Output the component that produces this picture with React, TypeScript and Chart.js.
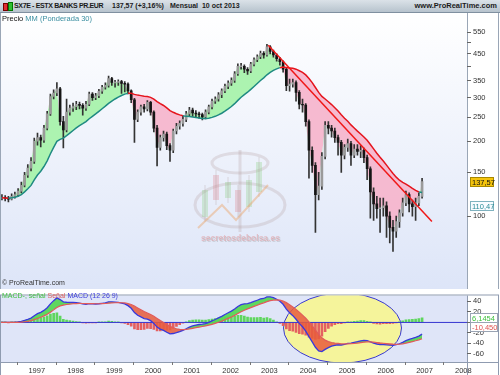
import React, { useEffect, useRef } from 'react';
import { Chart, registerables } from 'chart.js';

Chart.register(...registerables);
Chart.defaults.font.family = '"Liberation Sans", Arial, sans-serif';

// Monthly candles (first month of series at FIRST_MONTH, fractional year)
const FIRST_MONTH = 1996.02;
const CLOSE = [
  118, 119, 118, 117, 120, 122, 126, 133, 146, 156, 166, 200,
  207, 202, 226, 258, 303, 313, 325, 240, 222, 262, 272, 276,
  282, 279, 272, 282, 310, 300, 305, 318, 330, 336, 358, 345,
  345, 348, 342, 340, 319, 294, 245, 262, 275, 270, 287, 262,
  226, 189, 207, 214, 192, 184, 220, 230, 236, 245, 258, 267,
  260, 258, 256, 251, 262, 275, 290, 296, 308, 319, 333, 343,
  352, 374, 401, 401, 390, 384, 409, 426, 438, 452, 445, 480,
  460, 445, 430, 418, 390, 335, 340, 345, 315, 282, 280, 240,
  184, 160, 122, 132, 174, 232, 226, 220, 207, 198, 176, 189,
  196, 176, 186, 182, 184, 172, 155, 125, 112, 107, 108, 110,
  100, 90, 87, 95, 103, 113, 122, 112, 109, 113, 120, 137.57,
];
const OPEN = [
  117, 118, 119, 118, 117, 120, 122, 126, 133, 146, 156, 166,
  200, 207, 202, 226, 258, 303, 313, 325, 240, 222, 262, 272,
  276, 282, 279, 272, 282, 310, 300, 305, 318, 330, 336, 358,
  345, 345, 348, 342, 340, 319, 294, 245, 262, 275, 270, 287,
  262, 226, 189, 207, 214, 192, 184, 220, 230, 236, 245, 258,
  267, 260, 258, 256, 251, 262, 275, 290, 296, 308, 319, 333,
  343, 352, 374, 401, 401, 390, 384, 409, 426, 438, 452, 445,
  480, 460, 445, 430, 418, 390, 335, 340, 345, 315, 282, 280,
  240, 184, 160, 122, 132, 174, 232, 226, 220, 207, 198, 176,
  189, 196, 176, 186, 182, 184, 172, 155, 125, 112, 107, 108,
  110, 100, 90, 87, 95, 103, 113, 122, 112, 109, 113, 120,
];
const HIGH = [
  121, 122, 121, 120, 123, 125, 129, 137, 150, 161, 172, 206,
  216, 212, 232, 264, 310, 322, 345, 330, 252, 296, 280, 285,
  290, 288, 284, 290, 316, 314, 312, 324, 336, 344, 366, 362,
  352, 354, 352, 348, 344, 322, 298, 268, 280, 282, 292, 290,
  265, 232, 212, 220, 218, 196, 224, 236, 242, 252, 264, 274,
  272, 266, 262, 260, 268, 280, 296, 302, 314, 325, 340, 350,
  360, 382, 410, 412, 406, 396, 416, 434, 446, 462, 460, 492,
  486, 466, 450, 436, 422, 396, 356, 356, 350, 320, 296, 284,
  244, 190, 164, 150, 180, 240, 240, 232, 226, 212, 202, 194,
  204, 200, 194, 194, 192, 188, 176, 158, 130, 120, 118, 118,
  114, 104, 96, 100, 106, 118, 126, 124, 116, 118, 124, 142,
];
const LOW = [
  115, 116, 115, 114, 116, 118, 120, 124, 131, 143, 152, 163,
  193, 190, 198, 222, 254, 296, 305, 232, 188, 218, 255, 264,
  268, 270, 255, 266, 278, 292, 294, 300, 312, 324, 330, 336,
  330, 336, 312, 316, 310, 286, 198, 240, 255, 262, 265, 255,
  218, 159, 184, 200, 185, 166, 180, 214, 224, 230, 240, 252,
  252, 250, 248, 244, 246, 258, 270, 284, 290, 300, 314, 326,
  336, 345, 368, 390, 378, 372, 378, 402, 418, 430, 432, 440,
  450, 436, 420, 405, 380, 320, 318, 330, 290, 270, 262, 230,
  142, 150, 86, 116, 128, 170, 214, 208, 198, 176, 150, 170,
  182, 160, 172, 176, 172, 164, 140, 98, 96, 98, 86, 100,
  82, 78, 72, 82, 90, 100, 110, 104, 100, 96, 110, 118,
];

const TREND = [
  { x: 2002.97, y: 487 },
  { x: 2007.19, y: 95 },
];

const YEAR_TICKS = [1997, 1998, 1999, 2000, 2001, 2002, 2003, 2004, 2005, 2006, 2007, 2008];
const PRICE_TICKS = [100, 150, 200, 250, 300, 350, 400, 450, 500, 550];
const PRICE_UNLABELLED = [400, 500];
const MACD_TICKS = [-60, -40, -20, 0, 20, 40];

const LAST_PRICE = 137.57;
const LAST_PRICE_LABEL = '137,57';
const MA_LAST = 110.47;
const MA_LABEL = '110,47';
const HIST_LAST = 6.1454;
const HIST_LABEL = '6,1454';
const MACD_LAST = -10.45;
const MACD_LABEL = '-10,450';

const MA_PERIOD = 30;
const MACD_FAST = 12;
const MACD_SLOW = 26;
const MACD_SIGNAL = 9;

const X_MIN = 1996.079;
const X_MAX = 2008.095;
const PRICE_MIN = 54;
const PRICE_MAX = 618.7;
const MACD_MIN = -75.4;
const MACD_MAX = 51.3;

function wma(arr: number[], n: number) {
  return arr.map((_, i) => {
    let s = 0, w = 0;
    for (let k = 0; k < n && i - k >= 0; k++) {
      const wt = n - k;
      s += arr[i - k] * wt;
      w += wt;
    }
    return s / w;
  });
}
function ema(arr: number[], n: number) {
  const a = 2 / (n + 1);
  const out: number[] = [];
  arr.forEach((v, i) => out.push(i === 0 ? v : a * v + (1 - a) * out[i - 1]));
  return out;
}

function valueBox(ctx: CanvasRenderingContext2D, x: number, yc: number, w: number, h: number, fill: string, stroke: string, color: string, text: string) {
  ctx.save();
  ctx.fillStyle = fill;
  ctx.strokeStyle = stroke;
  ctx.lineWidth = 1;
  const y = Math.round(yc - h / 2) + 0.5;
  ctx.fillRect(x + 0.5, y, w, h);
  ctx.strokeRect(x + 0.5, y, w, h);
  ctx.fillStyle = color;
  ctx.font = '7.5px "Liberation Sans", Arial, sans-serif';
  ctx.textBaseline = 'middle';
  ctx.fillText(text, x + 2, y + h / 2 + 0.5);
  ctx.restore();
}

export default function App() {
  const mainRef = useRef<HTMLCanvasElement>(null);
  const macdRef = useRef<HTMLCanvasElement>(null);

  useEffect(() => {
    document.body.style.margin = '0';
    const xs = CLOSE.map((_, i) => FIRST_MONTH + i / 12);
    const ma = wma(CLOSE, MA_PERIOD);
    const closePts = CLOSE.map((c, i) => ({ x: xs[i], y: c }));
    const maPts = ma.map((m, i) => ({ x: xs[i], y: m }));
    const wickPts = CLOSE.map((_, i) => ({ x: xs[i], y: [LOW[i], HIGH[i]] }));
    const bodyPts = CLOSE.map((c, i) => {
      const o = OPEN[i];
      return { x: xs[i], y: o === c ? [c * 0.996, c * 1.004] : [o, c] };
    });
    const bodyColors = CLOSE.map((c, i) => (c >= OPEN[i] ? '#9a9a9a' : '#151515'));

    const emaF = ema(CLOSE, MACD_FAST);
    const emaS = ema(CLOSE, MACD_SLOW);
    const macd = emaF.map((v, i) => v - emaS[i]);
    const signal = ema(macd, MACD_SIGNAL);
    const hist = macd.map((v, i) => v - signal[i]);

    const mainDecor = {
      id: 'mainDecor',
      beforeDraw(chart: any) {
        const { ctx, chartArea: a, width, height } = chart;
        ctx.save();
        const g = ctx.createLinearGradient(0, 0, 0, height);
        g.addColorStop(0, '#ffffff');
        g.addColorStop(1, '#dde5f8');
        ctx.fillStyle = g;
        ctx.fillRect(a.left, 0, a.right - a.left, height);
        ctx.fillStyle = '#ffffff';
        ctx.fillRect(a.right, 0, width - a.right, height);
        ctx.fillRect(0, 0, a.left, height);
        ctx.strokeStyle = '#9aa6b6';
        ctx.lineWidth = 1;
        ctx.beginPath();
        ctx.moveTo(0.5, 0); ctx.lineTo(0.5, height);
        ctx.moveTo(a.right + 0.5, 0); ctx.lineTo(a.right + 0.5, height);
        ctx.moveTo(width - 1.5, 0); ctx.lineTo(width - 1.5, height);
        ctx.stroke();
        ctx.restore();
      },
      beforeDatasetsDraw(chart: any) {
        const { ctx } = chart;
        const oy = 13;
        ctx.save();
        ctx.strokeStyle = 'rgba(175,150,150,0.25)';
        ctx.lineWidth = 3;
        ctx.beginPath();
        ctx.ellipse(240, 163 - oy, 28, 10, 0, 0, Math.PI * 2);
        ctx.stroke();
        ctx.beginPath();
        ctx.ellipse(240, 205 - oy, 45, 22, 0, 0, Math.PI * 2);
        ctx.stroke();
        ctx.beginPath();
        ctx.moveTo(240, 150 - oy); ctx.lineTo(240, 232 - oy);
        ctx.stroke();
        const cds = [
          [205, 190, 217, 'g'], [216, 175, 200, 'r'], [228, 182, 198, 'g'],
          [238, 190, 212, 'r'], [249, 180, 207, 'g'], [259, 162, 192, 'g'],
        ];
        cds.forEach(([x, t, b, c]: any) => {
          ctx.fillStyle = c === 'g' ? 'rgba(130,205,120,0.28)' : 'rgba(220,120,130,0.28)';
          ctx.fillRect(x - 3, t - oy, 6, b - t);
          ctx.strokeStyle = 'rgba(170,150,150,0.3)';
          ctx.lineWidth = 1;
          ctx.beginPath(); ctx.moveTo(x, t - 5 - oy); ctx.lineTo(x, b + 5 - oy); ctx.stroke();
        });
        ctx.strokeStyle = 'rgba(235,165,105,0.45)';
        ctx.lineWidth = 2;
        ctx.beginPath();
        ctx.moveTo(198, 228 - oy); ctx.lineTo(222, 205 - oy); ctx.lineTo(236, 220 - oy); ctx.lineTo(268, 185 - oy);
        ctx.stroke();
        ctx.font = 'bold 8.5px "Liberation Sans", Arial, sans-serif';
        ctx.fillStyle = 'rgba(140,140,140,0.3)';
        ctx.fillText('secretosdebolsa.es', 202, 242 - oy);
        ctx.fillStyle = 'rgba(225,160,165,0.6)';
        ctx.fillText('secretosdebolsa.es', 201, 241 - oy);
        ctx.restore();
      },
      afterDraw(chart: any) {
        const { ctx } = chart;
        const y = chart.scales.y;
        valueBox(ctx, 470, y.getPixelForValue(LAST_PRICE), 23, 9, '#f5c40c', '#a88800', '#111', LAST_PRICE_LABEL);
        valueBox(ctx, 470, y.getPixelForValue(MA_LAST), 23, 9, '#f8fbff', '#7fb2bf', '#2a8c98', MA_LABEL);
      },
    };

    const main = new Chart(mainRef.current as HTMLCanvasElement, {
      type: 'bar',
      data: {
        datasets: [
          { type: 'line', label: 'close', data: closePts, borderColor: 'rgba(0,0,0,0)', borderWidth: 1, pointRadius: 0, order: 10 } as any,
          {
            type: 'line', label: 'maFill', data: maPts, borderColor: 'rgba(0,0,0,0)', borderWidth: 1, pointRadius: 0, order: 9,
            fill: { target: 0, above: 'rgba(245,182,206,0.95)', below: 'rgba(168,242,172,0.95)' },
          } as any,
          { type: 'bar', label: 'wick', data: wickPts, backgroundColor: '#333', barThickness: 1, grouped: false, order: 5 } as any,
          { type: 'bar', label: 'body', data: bodyPts, backgroundColor: bodyColors, barThickness: 2, grouped: false, order: 4 } as any,
          {
            type: 'line', label: 'ma', data: maPts, borderWidth: 1.5, pointRadius: 0, order: 2,
            borderColor: '#1f8a82',
            segment: { borderColor: (c: any) => (CLOSE[c.p1DataIndex] < ma[c.p1DataIndex] ? '#e5141c' : '#1f8a82') },
          } as any,
          { type: 'line', label: 'trend', data: TREND, borderColor: '#f01818', borderWidth: 1.5, pointRadius: 0, order: 1 } as any,
        ],
      },
      options: {
        responsive: false,
        animation: false,
        devicePixelRatio: 1,
        layout: { padding: { left: 1, right: 2, top: 0, bottom: 0 } },
        plugins: { legend: { display: false }, tooltip: { enabled: false } },
        scales: {
          x: { type: 'linear', display: false, min: X_MIN, max: X_MAX, offset: false },
          y: {
            type: 'logarithmic', position: 'right', min: PRICE_MIN, max: PRICE_MAX,
            afterFit: (s: any) => { s.width = 31; },
            afterBuildTicks: (s: any) => { s.ticks = PRICE_TICKS.map((v) => ({ value: v })); },
            ticks: {
              font: { size: 7.5 }, color: '#333', padding: 2,
              callback: (v: any) => (PRICE_UNLABELLED.includes(Number(v)) ? '' : String(v)),
            },
            grid: { drawOnChartArea: false, drawTicks: true, tickLength: 4, color: '#666' },
            border: { display: false },
          },
        },
      } as any,
      plugins: [mainDecor],
    });

    const macdDecor = {
      id: 'macdDecor',
      beforeDraw(chart: any) {
        const { ctx, chartArea: a, width, height } = chart;
        ctx.save();
        ctx.fillStyle = '#ffffff';
        ctx.fillRect(0, 0, width, height);
        ctx.fillStyle = '#dfe5f8';
        ctx.fillRect(a.left, a.top, a.right - a.left, a.bottom - a.top);
        ctx.strokeStyle = '#8f9bb0';
        ctx.lineWidth = 1;
        ctx.strokeRect(0.5, a.top - 0.5, width - 2, a.bottom - a.top + 1);
        ctx.beginPath();
        ctx.moveTo(a.right + 0.5, a.top); ctx.lineTo(a.right + 0.5, height);
        ctx.moveTo(0.5, a.bottom); ctx.lineTo(0.5, height);
        ctx.moveTo(width - 1.5, a.bottom); ctx.lineTo(width - 1.5, height);
        ctx.stroke();
        ctx.restore();
      },
      beforeDatasetsDraw(chart: any) {
        const { ctx, chartArea: a } = chart;
        const oy = 289;
        ctx.save();
        ctx.beginPath();
        ctx.rect(a.left, a.top, a.right - a.left, a.bottom - a.top);
        ctx.clip();
        ctx.beginPath();
        ctx.ellipse(342.5, 328 - oy, 59, 35, 0, 0, Math.PI * 2);
        ctx.fillStyle = 'rgba(246,244,150,0.95)';
        ctx.fill();
        ctx.strokeStyle = '#3a3ad0';
        ctx.lineWidth = 1;
        ctx.stroke();
        ctx.restore();
      },
      afterDraw(chart: any) {
        const { ctx } = chart;
        const y = chart.scales.y;
        valueBox(ctx, 470, y.getPixelForValue(HIST_LAST) - 1.5, 27, 9, '#ffffff', '#9aa4b4', '#3cbf3c', HIST_LABEL);
        valueBox(ctx, 470, y.getPixelForValue(MACD_LAST) - 1.5, 27, 9, '#ffffff', '#9aa4b4', '#e05050', MACD_LABEL);
      },
    };

    const macdChart = new Chart(macdRef.current as HTMLCanvasElement, {
      type: 'bar',
      data: {
        datasets: [
          { type: 'line', label: 'signal', data: signal.map((v, i) => ({ x: xs[i], y: v })), borderColor: '#e25a5a', borderWidth: 1.2, pointRadius: 0, order: 1 } as any,
          {
            type: 'line', label: 'macd', data: macd.map((v, i) => ({ x: xs[i], y: v })), borderColor: '#3838dc', borderWidth: 1.3, pointRadius: 0, order: 2,
            fill: { target: 0, above: 'rgba(86,214,86,0.95)', below: 'rgba(232,92,60,0.85)' },
          } as any,
          {
            type: 'bar', label: 'hist', data: hist.map((v, i) => ({ x: xs[i], y: v })),
            backgroundColor: hist.map((v) => (v >= 0 ? '#5ed65e' : '#e46060')), barThickness: 2, grouped: false, order: 6,
          } as any,
          { type: 'line', label: 'zero', data: [{ x: X_MIN, y: 0 }, { x: X_MAX, y: 0 }], borderColor: '#3434d0', borderWidth: 1, pointRadius: 0, order: 5 } as any,
        ],
      },
      options: {
        responsive: false,
        animation: false,
        devicePixelRatio: 1,
        layout: { padding: { left: 1, right: 2, top: 1, bottom: 0 } },
        plugins: { legend: { display: false }, tooltip: { enabled: false } },
        scales: {
          x: {
            type: 'linear', min: X_MIN, max: X_MAX, offset: false,
            afterFit: (s: any) => { s.height = 13; },
            afterBuildTicks: (s: any) => { s.ticks = YEAR_TICKS.map((v) => ({ value: v })); },
            ticks: { font: { size: 7.5 }, color: '#333', padding: 1, autoSkip: false, maxRotation: 0, callback: (v: any) => String(v) },
            grid: { drawOnChartArea: false, drawTicks: true, tickLength: 3, color: '#777' },
            border: { display: false },
          },
          y: {
            type: 'linear', position: 'right', min: MACD_MIN, max: MACD_MAX,
            afterFit: (s: any) => { s.width = 31; },
            afterBuildTicks: (s: any) => { s.ticks = MACD_TICKS.map((v) => ({ value: v })); },
            ticks: { font: { size: 7.5 }, color: '#333', padding: 2, callback: (v: any) => String(v) },
            grid: { drawOnChartArea: false, drawTicks: true, tickLength: 4, color: '#666' },
            border: { display: false },
          },
        },
      } as any,
      plugins: [macdDecor],
    });

    return () => {
      main.destroy();
      macdChart.destroy();
    };
  }, []);

  const font = '"Liberation Sans", Arial, sans-serif';
  const titleStyle: React.CSSProperties = {
    position: 'absolute', top: 0, lineHeight: '12px', fontSize: 7, fontWeight: 'bold', color: '#1b1b1b', whiteSpace: 'pre',
  };

  return (
    <div style={{ position: 'relative', width: 500, height: 375, overflow: 'hidden', fontFamily: font, background: '#fff' }}>
      <div style={{ position: 'absolute', left: 0, top: 0, width: 500, height: 12, background: 'linear-gradient(#dbe2e8, #b7c3cd)', borderBottom: '1px solid #8090a0' }} />
      <div style={{ position: 'absolute', left: 3, top: 3, width: 3, height: 6, background: '#e03030', border: '0.5px solid #700' }} />
      <div style={{ position: 'absolute', left: 8, top: 2, width: 3, height: 7, background: '#30c030', border: '0.5px solid #070' }} />
      <div style={{ ...titleStyle, left: 14, letterSpacing: '-0.35px' }}>SX7E - ESTX BANKS PR.EUR</div>
      <div style={{ ...titleStyle, left: 112 }}>137,57 (+3,16%)</div>
      <div style={{ ...titleStyle, left: 170 }}>Mensual  10 oct 2013</div>
      <div style={{ ...titleStyle, right: 3, fontSize: 7.5 }}>www.ProRealTime.com</div>
      <canvas ref={mainRef} width={500} height={276} style={{ position: 'absolute', left: 0, top: 13, width: 500, height: 276 }} />
      <canvas ref={macdRef} width={500} height={86} style={{ position: 'absolute', left: 0, top: 289, width: 500, height: 86 }} />
      <div style={{ position: 'absolute', left: 2, top: 14, fontSize: 7.5, lineHeight: '9px', whiteSpace: 'pre' }}>
        <span style={{ color: '#111' }}>Precio </span>
        <span style={{ color: '#3a8ea0' }}>MM (Ponderada 30)</span>
      </div>
      <div style={{ position: 'absolute', left: 2, top: 278, fontSize: 7, lineHeight: '9px', color: '#333' }}>© ProRealTime.com</div>
      <div style={{ position: 'absolute', left: 2, top: 291, fontSize: 7, lineHeight: '9px', whiteSpace: 'pre' }}>
        <span style={{ color: '#40c040' }}>MACD-, señal </span>
        <span style={{ color: '#e06060' }}>Señal </span>
        <span style={{ color: '#3c3cdc' }}>MACD (12 26 9)</span>
      </div>
    </div>
  );
}
